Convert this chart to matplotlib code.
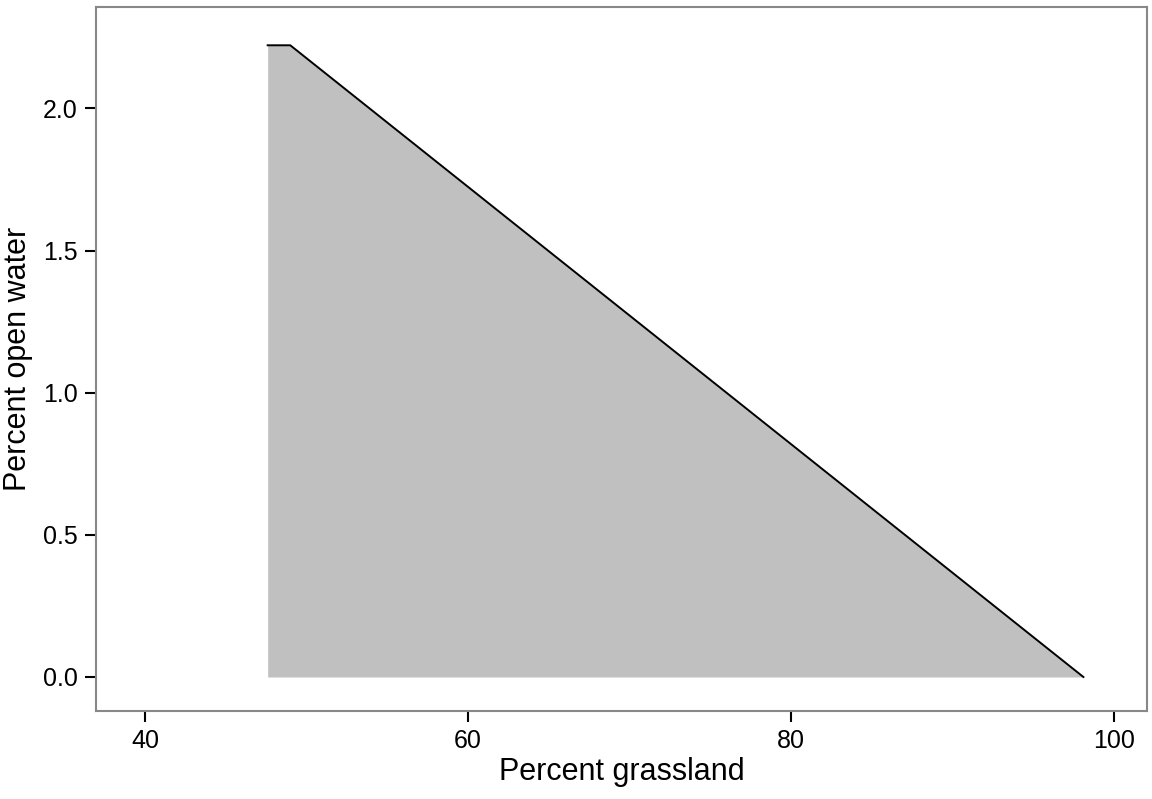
import matplotlib.pyplot as plt

plt.rcParams['font.family'] = ['Liberation Sans', 'DejaVu Sans']

# boundary of the shaded region (percent grassland, percent open water)
grass = [47.6, 49.0, 98.1]
water = [2.222, 2.222, 0.0]

xticks = [40, 60, 80, 100]
yticks = [0.0, 0.5, 1.0, 1.5, 2.0]

fig = plt.figure(figsize=(11.52, 7.99), dpi=100)
ax = fig.add_axes([0.0833, 0.110, 0.9124, 0.881])

ax.fill_between(grass, water, 0, color='#c0c0c0', linewidth=0)
ax.plot(grass, water, color='black', linewidth=1.4)

ax.set_xlim(36.97, 102.04)
ax.set_ylim(-0.12, 2.356)
ax.set_xticks(xticks)
ax.set_xticklabels([str(t) for t in xticks])
ax.set_yticks(yticks)
ax.set_yticklabels([f'{t:.1f}' for t in yticks])

for s in ax.spines.values():
    s.set_color('#888888')
    s.set_linewidth(1.5)

ax.tick_params(direction='out', length=8, width=1.5, color='black',
               labelsize=18, pad=5)

ax.set_xlabel('Percent grassland', fontsize=22, labelpad=3)
ax.set_ylabel('Percent open water', fontsize=22, labelpad=7)

fig.savefig('out.png', dpi=100)
